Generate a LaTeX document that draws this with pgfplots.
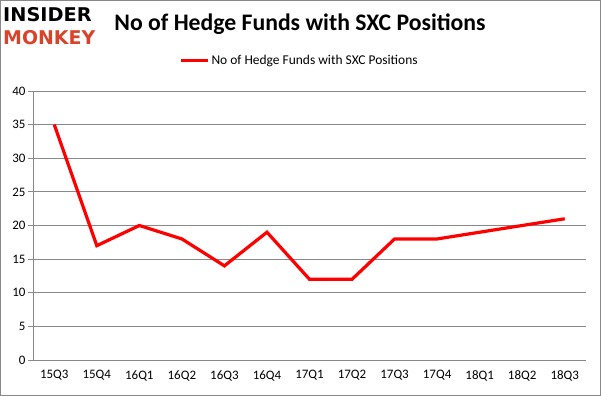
\documentclass[border=0pt]{standalone}
\usepackage{pgfplots}
\pgfplotsset{compat=1.18}
\usepackage{fontspec}
\setmainfont{Carlito}
\newfontfamily\logofont{DejaVu Sans}
\definecolor{gridgray}{HTML}{898989}
\definecolor{monkeyred}{HTML}{D9432B}
\begin{document}
\begin{tikzpicture}
\useasboundingbox (0bp,0bp) rectangle (601bp,396bp);
\draw[gridgray,line width=1bp] (0.5bp,0.5bp) rectangle (600.5bp,395.5bp);
\node[anchor=west,font=\logofont\bfseries\fontsize{19}{19}\selectfont,inner sep=0,xscale=1.02] at (3bp,381bp) {INSIDER};
\node[anchor=west,font=\logofont\bfseries\fontsize{19}{19}\selectfont,text=monkeyred,inner sep=0] at (3bp,358bp) {MONKEY};
\node[font=\bfseries\fontsize{23.8}{23.8}\selectfont,inner sep=0] at (300bp,372bp) {No of Hedge Funds with SXC Positions};
\begin{axis}[
  at={(33bp,36bp)}, anchor=south west,
  scale only axis, width=553bp, height=269bp,
  xmin=-0.5, xmax=12.5, ymin=0, ymax=40,
  xtick={0,...,12},
  xticklabels={15Q3,15Q4,16Q1,16Q2,16Q3,16Q4,17Q1,17Q2,17Q3,17Q4,18Q1,18Q2,18Q3},
  extra x ticks={-0.5,0.5,...,12.5},
  extra x tick labels={},
  extra x tick style={major tick length=5bp, tick style={gridgray,line width=0.8bp}, grid=none},
  ytick={0,5,...,40},
  major x tick style={draw=none},
  ytick style={gridgray,line width=0.8bp},
  major tick length=5bp,
  tick align=outside,
  ymajorgrids,
  grid style={gridgray,line width=0.8bp},
  axis x line*=bottom, axis y line*=left,
  axis line style={gridgray,line width=0.8bp,-},
  tick label style={font=\fontsize{13}{13}\selectfont},
  /pgf/number format/assume math mode=true,
  yticklabel style={xshift=1bp},
  xticklabel style={yshift=-2bp},
  legend style={at={(0.5,1)},anchor=south,yshift=21bp,xshift=-10bp,draw=none,fill=none,
    font=\fontsize{13.5}{13.5}\selectfont, legend columns=-1},
  legend image code/.code={\draw[#1] (0bp,0bp) -- (27bp,0bp);},
  clip=false,
]
\addplot[red,line width=3.2bp] coordinates {
(0,35) (1,17) (2,20) (3,18) (4,14) (5,19) (6,12) (7,12) (8,18) (9,18) (10,19) (11,20) (12,21)};
\addlegendentry{No of Hedge Funds with SXC Positions}
\end{axis}
\end{tikzpicture}
\end{document}
